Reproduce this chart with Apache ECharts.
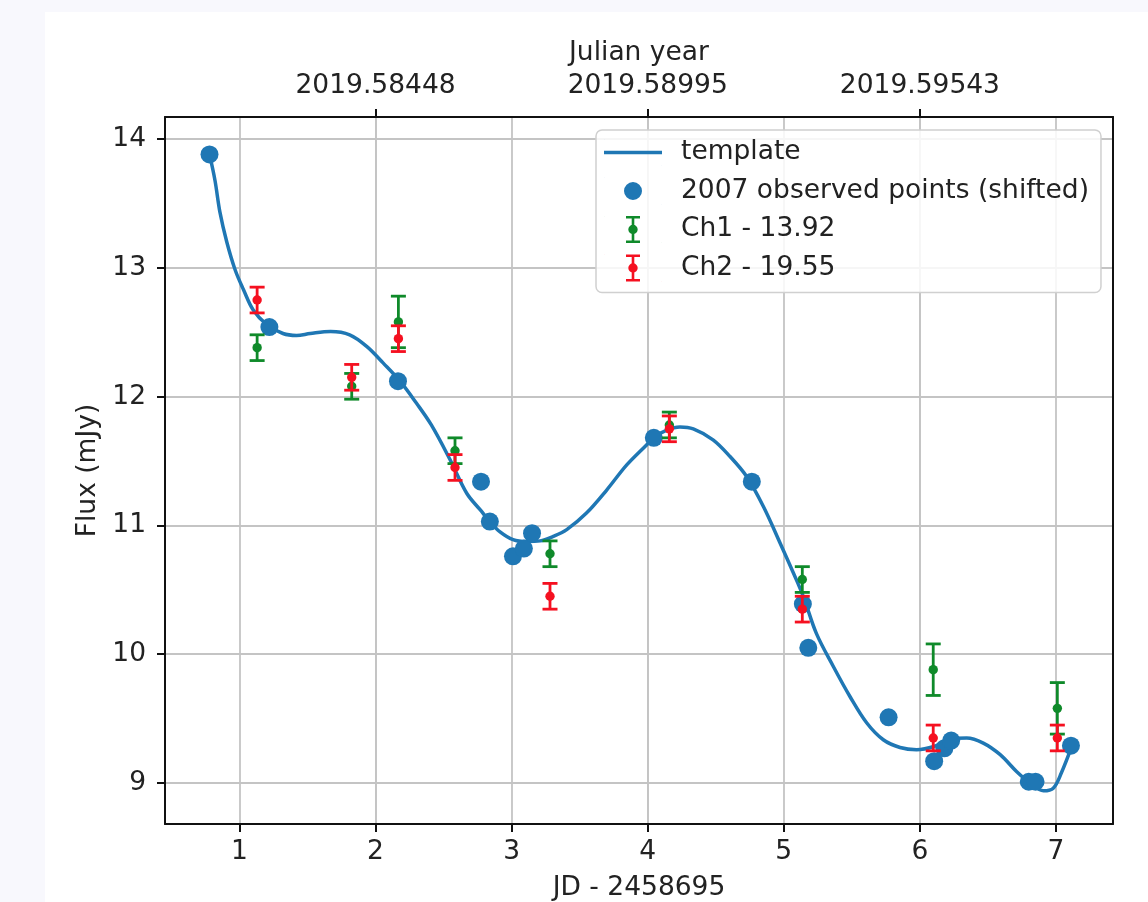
<!DOCTYPE html>
<html>
<head>
<meta charset="utf-8">
<title>Light curve template</title>
<script src="https://cdn.jsdelivr.net/npm/echarts@6/dist/echarts.min.js"></script>
<style>
  html, body { margin: 0; padding: 0; background: #f8f8fd; }
  #chart { position: absolute; left: 45px; top: 12px; width: 1103px; height: 890px; background: #ffffff; }
</style>
</head>
<body>
<div id="chart"></div>
<script>
// Template light curve [JD - 2458695, flux mJy]
const templateCurve = [
  [0.78, 13.88], [0.82, 13.68], [0.857, 13.43], [0.907, 13.20], [0.968, 12.985],
  [1.03, 12.83], [1.10, 12.675], [1.20, 12.56], [1.32, 12.49], [1.42, 12.475],
  [1.52, 12.49], [1.67, 12.505], [1.81, 12.48], [1.935, 12.39], [2.057, 12.26],
  [2.18, 12.12], [2.30, 11.95], [2.41, 11.78], [2.548, 11.51], [2.67, 11.25],
  [2.77, 11.12], [2.84, 11.03], [2.915, 10.95], [3.01, 10.89], [3.11, 10.875],
  [3.21, 10.88], [3.306, 10.915], [3.405, 10.967], [3.55, 11.096], [3.70, 11.277],
  [3.846, 11.47], [3.993, 11.627], [4.04, 11.68], [4.14, 11.74], [4.237, 11.765],
  [4.335, 11.75], [4.48, 11.665], [4.605, 11.535], [4.727, 11.38], [4.85, 11.147],
  [4.97, 10.87], [5.10, 10.56], [5.15, 10.43], [5.24, 10.16], [5.364, 9.905],
  [5.486, 9.672], [5.61, 9.466], [5.731, 9.336], [5.854, 9.276], [5.976, 9.259],
  [6.104, 9.284], [6.22, 9.34], [6.344, 9.349], [6.466, 9.31], [6.59, 9.22],
  [6.71, 9.09], [6.81, 9.00], [6.908, 8.94], [6.98, 8.96], [7.04, 9.08], [7.116, 9.284]
];

// 2007 observations, shifted onto the 2019 epoch
const observed2007 = [
  [0.78, 13.88], [1.22, 12.54], [2.165, 12.12], [2.775, 11.34], [2.84, 11.03],
  [3.01, 10.76], [3.09, 10.82], [3.15, 10.94], [4.045, 11.68], [4.765, 11.34],
  [5.14, 10.39], [5.18, 10.05], [5.77, 9.51], [6.105, 9.17], [6.18, 9.27],
  [6.23, 9.33], [6.80, 9.01], [6.85, 9.01], [7.11, 9.29]
];

// Channel photometry [JD - 2458695, flux, 1-sigma error]
const ch1Points = [
  [1.13, 12.38, 0.1], [1.825, 12.08, 0.1], [2.168, 12.58, 0.2], [2.584, 11.58, 0.1],
  [3.282, 10.78, 0.1], [4.159, 11.78, 0.1], [5.136, 10.58, 0.1], [6.098, 9.88, 0.2],
  [7.01, 9.58, 0.2]
];
const ch2Points = [
  [1.13, 12.75, 0.1], [1.825, 12.15, 0.1], [2.168, 12.45, 0.1], [2.584, 11.45, 0.1],
  [3.282, 10.45, 0.1], [4.159, 11.75, 0.1], [5.136, 10.35, 0.1], [6.098, 9.35, 0.1],
  [7.01, 9.35, 0.1]
];

// Axis ticks
const jdTicks = [1, 2, 3, 4, 5, 6, 7];
const fluxTicks = [9, 10, 11, 12, 13, 14];
const yearTickPositions = [2, 4, 6];
const yearTickLabels = ['2019.58448', '2019.58995', '2019.59543'];

const seriesNames = ['template', '2007 observed points (shifted)', 'Ch1 - 13.92', 'Ch2 - 19.55'];

const FONT = 'DejaVu Sans';
const FONT_SIZE = 26.5;
const INK = '#222222';
const BLUE = '#1f77b4';
const GREEN = '#0f8a2a';
const RED = '#f51020';

const xRange = [0.453, 7.419];
const yRange = [8.682, 14.171];

// Legend handles, drawn in a 58x27 box (tiny corner anchors keep the box size)
const anchors = 'M0,0h0.15v0.15h-0.15z M57.85,26.85h0.15v0.15h-0.15z ';
const lineIcon = 'path://' + anchors + 'M0,11.75h58v3.5h-58z';
const dotIcon = 'path://' + anchors + 'M20,13.5a9,9 0 1,1 18,0a9,9 0 1,1 -18,0z';
const barIcon = 'path://' + anchors +
  'M22,0h14v2.6h-14z M27.7,0h2.6v27h-2.6z M22,24.4h14v2.6h-14z M24.3,13.5a4.7,4.7 0 1,1 9.4,0a4.7,4.7 0 1,1 -9.4,0z';

function errorBars(color) {
  return function (params, api) {
    const x = api.value(0), y = api.value(1), e = api.value(2);
    const top = api.coord([x, y + e]);
    const bot = api.coord([x, y - e]);
    const mid = api.coord([x, y]);
    const hw = 7.5;
    const st = { stroke: color, lineWidth: 2.8, fill: null };
    return {
      type: 'group',
      children: [
        { type: 'line', shape: { x1: top[0], y1: top[1], x2: bot[0], y2: bot[1] }, style: st },
        { type: 'line', shape: { x1: top[0] - hw, y1: top[1], x2: top[0] + hw, y2: top[1] }, style: st },
        { type: 'line', shape: { x1: bot[0] - hw, y1: bot[1], x2: bot[0] + hw, y2: bot[1] }, style: st },
        { type: 'circle', shape: { cx: mid[0], cy: mid[1], r: 4.7 }, style: { fill: color } }
      ]
    };
  };
}

const labelStyle = { fontFamily: FONT, fontSize: FONT_SIZE, color: INK };
const axisLineStyle = { color: '#111111', width: 2 };
const gridLineStyle = { color: '#c4c4c4', width: 1.8 };

const chart = echarts.init(document.getElementById('chart'), null, { renderer: 'canvas' });
chart.setOption({
  animation: false,
  backgroundColor: '#ffffff',
  grid: { left: 120, top: 105, right: 35, bottom: 78, containLabel: false, outerBoundsMode: 'none' },
  legend: {
    orient: 'vertical',
    left: 551,
    top: 118,
    padding: [9, 12, 11, 8],
    itemWidth: 58,
    itemHeight: 27,
    itemGap: 11.5,
    backgroundColor: 'rgba(255,255,255,0.85)',
    borderColor: '#d0d0d0',
    borderWidth: 1.5,
    borderRadius: 6,
    textStyle: { fontFamily: FONT, fontSize: FONT_SIZE, color: INK, padding: [0, 0, 0, 14] },
    data: [
      { name: seriesNames[0], icon: lineIcon },
      { name: seriesNames[1], icon: dotIcon },
      { name: seriesNames[2], icon: barIcon },
      { name: seriesNames[3], icon: barIcon }
    ]
  },
  xAxis: [
    {
      type: 'value', position: 'bottom', min: xRange[0], max: xRange[1],
      name: 'JD - 2458695', nameLocation: 'middle', nameGap: 51,
      nameTextStyle: labelStyle,
      axisLine: { show: true, onZero: false, lineStyle: axisLineStyle },
      axisTick: { show: true, length: 8, customValues: jdTicks, lineStyle: { color: '#111111', width: 2 } },
      axisLabel: Object.assign({ margin: 15, customValues: jdTicks, formatter: v => String(v) }, labelStyle),
      splitLine: { show: true, lineStyle: gridLineStyle }
    },
    {
      type: 'value', position: 'top', min: xRange[0], max: xRange[1],
      name: 'Julian year', nameLocation: 'middle', nameGap: 50,
      nameTextStyle: labelStyle,
      axisLine: { show: true, onZero: false, lineStyle: axisLineStyle },
      axisTick: { show: true, length: 8, customValues: yearTickPositions, lineStyle: { color: '#111111', width: 2 } },
      axisLabel: Object.assign({
        margin: 17, customValues: yearTickPositions,
        formatter: v => {
          const i = yearTickPositions.findIndex(p => Math.abs(p - v) < 1e-6);
          return i >= 0 ? yearTickLabels[i] : '';
        }
      }, labelStyle),
      splitLine: { show: true, lineStyle: gridLineStyle }
    }
  ],
  yAxis: [
    {
      type: 'value', position: 'left', min: yRange[0], max: yRange[1],
      name: 'Flux (mJy)', nameLocation: 'middle', nameGap: 62, nameRotate: 90,
      nameTextStyle: labelStyle,
      axisLine: { show: true, onZero: false, lineStyle: axisLineStyle },
      axisTick: { show: true, length: 8, customValues: fluxTicks, lineStyle: { color: '#111111', width: 2 } },
      axisLabel: Object.assign({ margin: 19, customValues: fluxTicks, formatter: v => String(v) }, labelStyle),
      splitLine: { show: true, lineStyle: gridLineStyle }
    },
    {
      type: 'value', position: 'right', min: yRange[0], max: yRange[1],
      axisLine: { show: true, onZero: false, lineStyle: axisLineStyle },
      axisTick: { show: false }, axisLabel: { show: false }, splitLine: { show: false }
    }
  ],
  series: [
    {
      name: seriesNames[0], type: 'line', xAxisIndex: 0, yAxisIndex: 0,
      data: templateCurve, smooth: 0.35, showSymbol: false, symbol: 'none',
      color: BLUE, lineStyle: { color: BLUE, width: 3.5 }, z: 2
    },
    {
      name: seriesNames[1], type: 'scatter', xAxisIndex: 0, yAxisIndex: 0,
      data: observed2007, symbol: 'circle', symbolSize: 18,
      itemStyle: { color: BLUE, opacity: 1 }, z: 3
    },
    {
      name: seriesNames[2], type: 'custom', xAxisIndex: 0, yAxisIndex: 0,
      data: ch1Points, encode: { x: 0, y: 1 }, renderItem: errorBars(GREEN),
      itemStyle: { color: GREEN }, z: 4
    },
    {
      name: seriesNames[3], type: 'custom', xAxisIndex: 0, yAxisIndex: 0,
      data: ch2Points, encode: { x: 0, y: 1 }, renderItem: errorBars(RED),
      itemStyle: { color: RED }, z: 5
    }
  ]
});
</script>
</body>
</html>
